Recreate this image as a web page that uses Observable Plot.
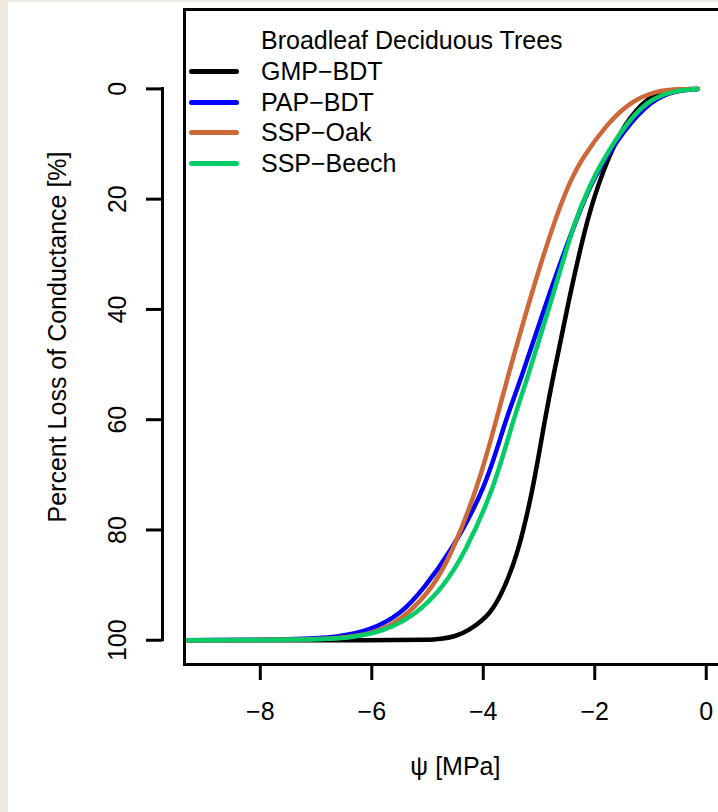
<!DOCTYPE html>
<html>
<head>
<meta charset="utf-8">
<script src="https://cdn.jsdelivr.net/npm/d3@7"></script>
<script src="https://cdn.jsdelivr.net/npm/@observablehq/plot@0.6"></script>
<style>
  html, body { margin: 0; padding: 0; }
  body { background: #EDEAE2; width: 718px; height: 812px; overflow: hidden; font-family: "Liberation Sans", Arial, sans-serif; }
  #panel { position: absolute; left: 8px; top: 2px; width: 710px; height: 810px; background: #fff; overflow: hidden; }
  #legend { position: absolute; left: 180.7px; top: 23.3px; font-size: 25px; color: #000; }
  .row { display: flex; align-items: center; height: 30.7px; line-height: 30.7px; white-space: nowrap; }
  .sw { width: 50px; height: 5px; border-radius: 2.5px; margin-right: 22.3px; }
</style>
</head>
<body>
<div id="panel"><div id="chart"></div><div id="legend"></div></div>
<script>
// ---- data ----
const seriesNames = ["GMP-BDT", "PAP-BDT", "SSP-Oak", "SSP-Beech"];
const seriesColors = ["#000000", "#0000FF", "#CD6839", "#00CD66"];
const legendTitle = "Broadleaf Deciduous Trees";
const xTitle = "ψ [MPa]";
const yTitle = "Percent Loss of Conductance [%]";
const psiTicks = [-8, -6, -4, -2, 0];
const plcTicks = [0, 20, 40, 60, 80, 100];
const psiDomain = [-9.36, 0.36];
const plcDomain = [-14.4, 104.4];

const gmpPsi = [-9.3, -5.6, -5.0, -4.76, -4.5, -4.28, -3.86, -3.62, -3.38, -3.1, -2.9, -2.76, -2.47, -2.13, -1.85, -1.48, -1.0, -0.7, -0.15];
const gmpPlc = [100, 100, 99.95, 99.8, 99.3, 98.4, 95.3, 90.5, 84.4, 72.3, 60.2, 52.9, 38.4, 23.2, 14.7, 6.2, 1.1, 0.2, 0];

const papPsi = [-9.3, -7.3, -6.6, -6.07, -5.47, -5.06, -4.61, -3.95, -3.61, -3.33, -2.8, -2.31, -2.05, -1.47, -0.98, -0.55, -0.15];
const papPlc = [100, 99.85, 99.4, 98.4, 95.3, 90.5, 84.4, 72.3, 60.2, 52.9, 36.5, 23.2, 16.5, 7.3, 2.0, 0.3, 0];

const oakPsi = [-9.3, -7.0, -6.4, -5.83, -5.35, -4.91, -4.57, -4.1, -3.77, -3.58, -3.12, -2.70, -2.43, -2.25, -1.77, -1.36, -0.88, -0.5, -0.15];
const oakPlc = [100, 99.9, 99.5, 98.4, 95.3, 90.5, 84.4, 72.3, 60.2, 52.9, 36.5, 23.2, 16.5, 12.9, 6.2, 2.3, 0.3, 0.05, 0];

const beechPsi = [-9.3, -7.0, -6.4, -5.77, -5.20, -4.73, -4.34, -3.80, -3.47, -3.22, -2.72, -2.34, -2.07, -1.95, -1.53, -1.06, -0.58, -0.15];
const beechPlc = [100, 99.9, 99.6, 98.4, 95.3, 90.5, 84.4, 72.3, 60.2, 52.9, 36.5, 23.2, 17.3, 14.7, 7.5, 2.0, 0.3, 0];

const seriesPsi = [gmpPsi, papPsi, oakPsi, beechPsi];
const seriesPlc = [gmpPlc, papPlc, oakPlc, beechPlc];

const rows = [];
seriesNames.forEach((name, k) => {
  seriesPsi[k].forEach((p, i) => rows.push({series: name, psi: p, plc: seriesPlc[k][i]}));
});

const minusFmt = d => (d < 0 ? "\u2212" : "") + Math.abs(d);

const chart = Plot.plot({
  width: 710,
  height: 810,
  marginLeft: 176,
  marginRight: -7.8,
  marginTop: 7,
  marginBottom: 148,
  style: {background: "transparent", fontFamily: "'Liberation Sans', Arial, sans-serif", fontSize: "25px", color: "#000", overflow: "visible"},
  x: {domain: psiDomain},
  y: {domain: plcDomain, reverse: true},
  color: {domain: seriesNames, range: seriesColors},
  marks: [
    Plot.line(rows, {x: "psi", y: "plc", z: "series", stroke: "series", curve: "basis", strokeWidth: 4.5, strokeLinecap: "round", strokeLinejoin: "round", clip: true}),
    Plot.frame({strokeWidth: 3}),
    Plot.axisX(psiTicks, {tickSize: 16, tickPadding: 22, strokeWidth: 3, fontSize: 25, tickFormat: minusFmt, label: null}),
    Plot.axisY(plcTicks, {tickSize: 16, tickPadding: 21, dx: -22, tickRotate: -90, strokeWidth: 3, fontSize: 25, label: null}),
    Plot.ruleX([psiDomain[0]], {y1: 0, y2: 100, dx: -22, strokeWidth: 3, strokeLinecap: "square"}),
    Plot.text([xTitle], {text: d => d, frameAnchor: "bottom", dy: 110, lineAnchor: "bottom", textAnchor: "middle", fontSize: 25}),
    Plot.text([yTitle], {text: d => d, frameAnchor: "left", rotate: -90, dx: -119, lineAnchor: "bottom", textAnchor: "middle", fontSize: 25})
  ]
});
document.getElementById("chart").appendChild(chart);

// legend
const lg = document.getElementById("legend");
const titleRow = document.createElement("div");
titleRow.className = "row";
titleRow.innerHTML = `<div class="sw" style="background:transparent"></div><span>${legendTitle}</span>`;
lg.appendChild(titleRow);
seriesNames.forEach((name, k) => {
  const r = document.createElement("div");
  r.className = "row";
  r.innerHTML = `<div class="sw" style="background:${seriesColors[k]}"></div><span>${name.replace("-", "\u2212")}</span>`;
  lg.appendChild(r);
});
</script>
</body>
</html>
